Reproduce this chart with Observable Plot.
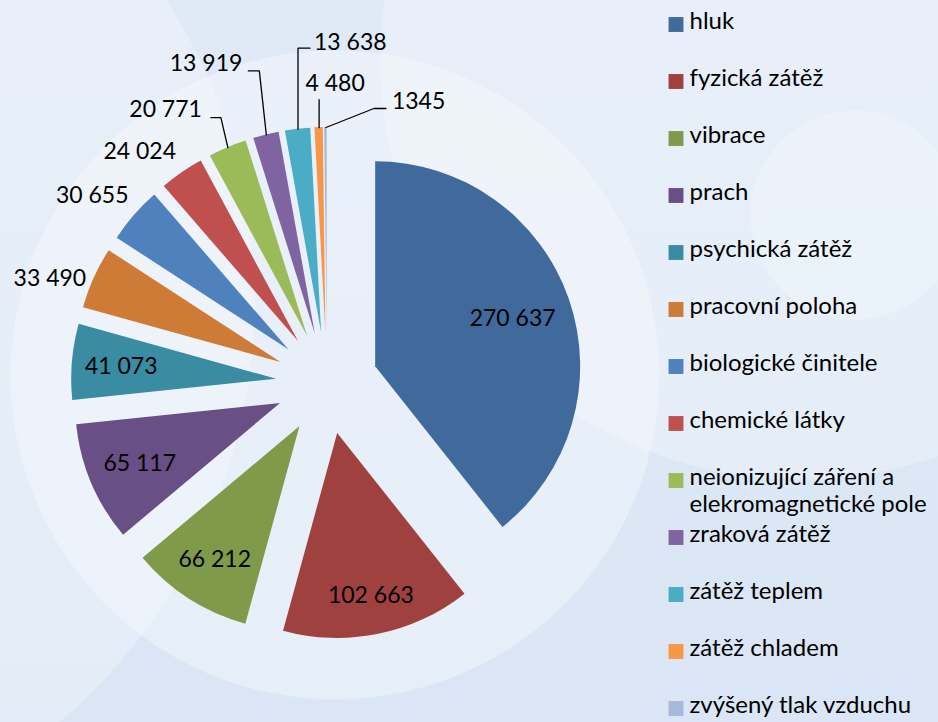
<!DOCTYPE html>
<html><head><meta charset="utf-8">
<script src="https://cdn.jsdelivr.net/npm/d3@7"></script>
<script src="https://cdn.jsdelivr.net/npm/@observablehq/plot@0.6"></script>
<style>
html,body{margin:0;padding:0;}
#chart{position:relative;width:938px;height:722px;overflow:hidden;
 background:
  radial-gradient(circle 105px at 855px 215px, rgba(255,255,255,0.22) 99%, rgba(255,255,255,0) 100%),
  radial-gradient(circle 325px at 335px 375px, rgba(255,255,255,0.32) 99.6%, rgba(255,255,255,0) 100%),
  radial-gradient(circle 420px at 800px 60px, rgba(255,255,255,0.25) 99.8%, rgba(255,255,255,0) 100%),
  radial-gradient(circle 555px at -300px 300px, rgba(255,255,255,0.25) 99.8%, rgba(255,255,255,0) 100%),
  linear-gradient(#E0EAF7, #DAE6F5);
}
#chart svg{position:absolute;top:0;}
</style></head><body><div id="chart"></div>
<script>
const categories = ["hluk","fyzická zátěž","vibrace","prach","psychická zátěž","pracovní poloha","biologické činitele","chemické látky","neionizující záření a elekromagnetické pole","zraková zátěž","zátěž teplem","zátěž chladem","zvýšený tlak vzduchu"];
const values = [270637,102663,66212,65117,41073,33490,30655,24024,20771,13919,13638,4480,1345];
const valueLabels = ["270 637","102 663","66 212","65 117","41 073","33 490","30 655","24 024","20 771","13 919","13 638","4 480","1345"];
const colors = ["#40699C","#9F413F","#7F9A48","#684F86","#3A8CA3","#CD7B36","#4F81BD","#C0504D","#9BBB59","#8064A2","#4BACC6","#F79646","#A8B8D8"];

// layout (pixels)
const geom = {cx:327, cy:383, r:205, explode:51};
const labelLayout = [
 {mode:"in", inR:145},{mode:"in", inR:166},{mode:"in", inR:158},{mode:"in", inR:153},{mode:"in", inR:156},
 {mode:"out", dx:-8, dy:0, anchor:"end"},
 {mode:"out", dx:-6, dy:-20, anchor:"end"},
 {mode:"out", dx:-6, dy:-21, anchor:"end"},
 {mode:"out", dx:-26, dy:-38, anchor:"end", leader:[[-7,-30],[-17,-30]]},
 {mode:"out", dx:-24, dy:-71, anchor:"end", leader:[[-7,-64],[-18,-64]]},
 {mode:"out", dx:16, dy:-87, anchor:"start", leader:[[0,-81],[12,-81]]},
 {mode:"out", dx:16, dy:-44, anchor:"middle", leader:[[0,-28]]},
 {mode:"out", dx:66, dy:-26, anchor:"start", leader:[[48,-19],[60,-19]]}
];

const rows = categories.map((c,i)=>({category:c, value:values[i], label:valueLabels[i], color:colors[i], i}));
const arcs = d3.pie().sort(null).value(d=>d.value)(rows);
const slices = arcs.map(a=>{
  const mid = (a.startAngle+a.endAngle)/2;
  const ux = Math.sin(mid), uy = -Math.cos(mid);
  const lay = labelLayout[a.data.i];
  const apexX = geom.cx + geom.explode*ux, apexY = geom.cy + geom.explode*uy;
  const ox = apexX + geom.r*ux, oy = apexY + geom.r*uy;
  let lx, ly;
  if (lay.mode === "in") { lx = apexX + lay.inR*ux; ly = apexY + lay.inR*uy; }
  else { lx = ox + lay.dx; ly = oy + lay.dy; }
  return {...a, ...a.data, apexX, apexY, ox, oy, lx, ly, anchor: lay.anchor || "middle", leader: lay.leader};
});
const leaderPts = [];
slices.filter(s=>s.leader).forEach(s=>{
  leaderPts.push({id:s.i, x:s.ox, y:s.oy});
  s.leader.forEach(([dx,dy])=>leaderPts.push({id:s.i, x:s.ox+dx, y:s.oy+dy}));
});

function pieMark(index, scales) {
  const sx = scales && scales.x ? scales.x : (v=>v);
  const sy = scales && scales.y ? scales.y : (v=>v);
  const arcGen = d3.arc().innerRadius(0).outerRadius(sx(geom.r) - sx(0));
  const g = d3.create("svg:g");
  g.selectAll("path").data(slices).join("path")
    .attr("transform", d=>`translate(${sx(d.apexX)},${sy(d.apexY)})`)
    .attr("d", arcGen)
    .attr("fill", d=>d.color);
  return g.node();
}

const textOpts = {x:"lx", y:"ly", text:"label", fontSize:23, fill:"#000"};
const pie = Plot.plot({
  width:938, height:722, margin:0,
  x:{domain:[0,938], range:[0,938], axis:null},
  y:{domain:[0,722], range:[0,722], axis:null},
  style:{background:"transparent", fontFamily:"Lato", overflow:"visible"},
  marks:[
    pieMark,
    Plot.line(leaderPts, {x:"x", y:"y", z:"id", stroke:"#000", strokeWidth:1.3}),
    Plot.text(slices.filter(s=>s.anchor==="middle"), {...textOpts, textAnchor:"middle"}),
    Plot.text(slices.filter(s=>s.anchor==="end"), {...textOpts, textAnchor:"end"}),
    Plot.text(slices.filter(s=>s.anchor==="start"), {...textOpts, textAnchor:"start"})
  ]
});

const legend = Plot.plot({
  width:298, height:722, margin:0,
  y:{type:"point", domain:categories, range:[22,710], padding:0, axis:null},
  color:{domain:categories, range:colors},
  style:{background:"transparent", fontFamily:"Lato", overflow:"visible"},
  marks:[
    Plot.dot(categories, {y:d=>d, frameAnchor:"left", dx:35.5, symbol:"square", r:8.4, fill:d=>d}),
    Plot.text(categories, {y:d=>d, frameAnchor:"left", dx:49, text:d=>d.replace("záření a ","záření a\n"),
      textAnchor:"start", lineAnchor:"top", dy:-15, fontSize:24, lineHeight:1.13, fill:"#000"})
  ]
});
legend.style.left = "640px";
pie.style.left = "0px";
const root = document.getElementById("chart");
root.appendChild(pie);
root.appendChild(legend);
</script>
</body></html>
